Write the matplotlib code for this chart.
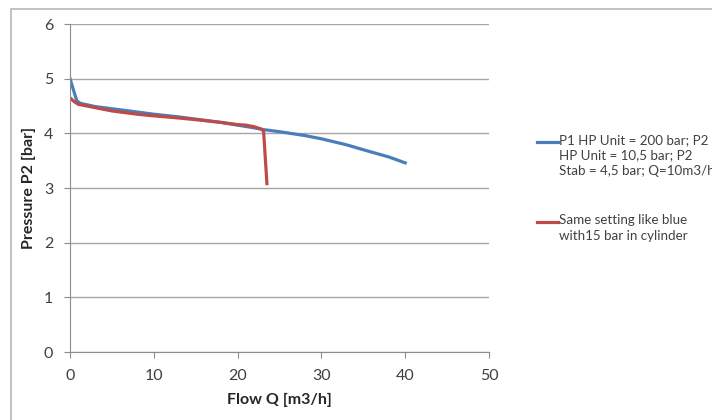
import matplotlib
matplotlib.use("Agg")
import matplotlib.pyplot as plt
from matplotlib.patches import Rectangle
from matplotlib.lines import Line2D

plt.rcParams['font.family'] = ['Lato', 'DejaVu Sans']

blue_x = [0, 0.8, 1.2, 3, 5, 8, 10, 13, 15, 18, 20, 22, 23, 25, 28, 30, 33, 35, 38, 40]
blue_y = [5.0, 4.6, 4.55, 4.49, 4.45, 4.39, 4.35, 4.30, 4.26, 4.20, 4.15, 4.10, 4.07, 4.03, 3.96, 3.90, 3.79, 3.70, 3.57, 3.46]
red_x = [0, 0.5, 1, 3, 5, 8, 10, 13, 15, 18, 20, 21, 22, 22.8, 23.1, 23.5]
red_y = [4.65, 4.58, 4.53, 4.47, 4.41, 4.35, 4.32, 4.28, 4.25, 4.20, 4.16, 4.15, 4.12, 4.08, 4.04, 3.08]
blue_label = "P1 HP Unit = 200 bar; P2\nHP Unit = 10,5 bar; P2\nStab = 4,5 bar; Q=10m3/h"
red_label = "Same setting like blue\nwith15 bar in cylinder"
x_ticks = [0, 10, 20, 30, 40, 50]
y_ticks = [0, 1, 2, 3, 4, 5, 6]

W, H = 712, 420
fig = plt.figure(figsize=(W/100, H/100), dpi=100)
fig.patch.set_facecolor('white')

# outer chart border
fig.patches.append(Rectangle((11/W, -0.05), 1.2, (H-9)/H + 0.05, transform=fig.transFigure,
                             fill=False, edgecolor='#b8b8b8', linewidth=1.2))

ax = fig.add_axes([70/W, (H-352)/H, 419/W, 328/H])
ax.set_xlim(0, 50)
ax.set_ylim(0, 6)
ax.set_xticks(x_ticks)
ax.set_yticks(y_ticks)
ax.grid(axis='y', color='#a6a6a6', linewidth=1.0)
ax.set_axisbelow(True)
for s in ['top', 'right']:
    ax.spines[s].set_visible(False)
for s in ['left', 'bottom']:
    ax.spines[s].set_color('#8c8c8c')
ax.tick_params(axis='both', colors='#8c8c8c', labelcolor='#404040', labelsize=11.5, length=4, direction='out')
ax.tick_params(axis='y', pad=8)
ax.tick_params(axis='x', pad=8)

lb, = ax.plot(blue_x, blue_y, color='#4a7ebb', linewidth=2.3)
lr, = ax.plot(red_x, red_y, color='#be4b48', linewidth=2.3)

ax.set_xlabel('Flow Q [m3/h]', fontsize=11.5, fontweight='bold', color='#262626', labelpad=7)
ax.set_ylabel('Pressure P2 [bar]', fontsize=11.5, fontweight='bold', color='#262626', labelpad=6)

# legend drawn manually to allow cut-off at right edge (as in the reference)
fig.add_artist(Line2D([537/W, 558/W], [1-142/H, 1-142/H], transform=fig.transFigure, color='#4a7ebb', linewidth=2.3))
fig.text(559/W, 1-134/H, blue_label, fontsize=9.6, color='#404040', va='top', ha='left',
         linespacing=1.35, transform=fig.transFigure)
fig.add_artist(Line2D([537/W, 558/W], [1-222/H, 1-222/H], transform=fig.transFigure, color='#be4b48', linewidth=2.3))
fig.text(559/W, 1-214/H, red_label, fontsize=9.6, color='#404040', va='top', ha='left',
         linespacing=1.35, transform=fig.transFigure)

fig.savefig('out.png', dpi=100)
